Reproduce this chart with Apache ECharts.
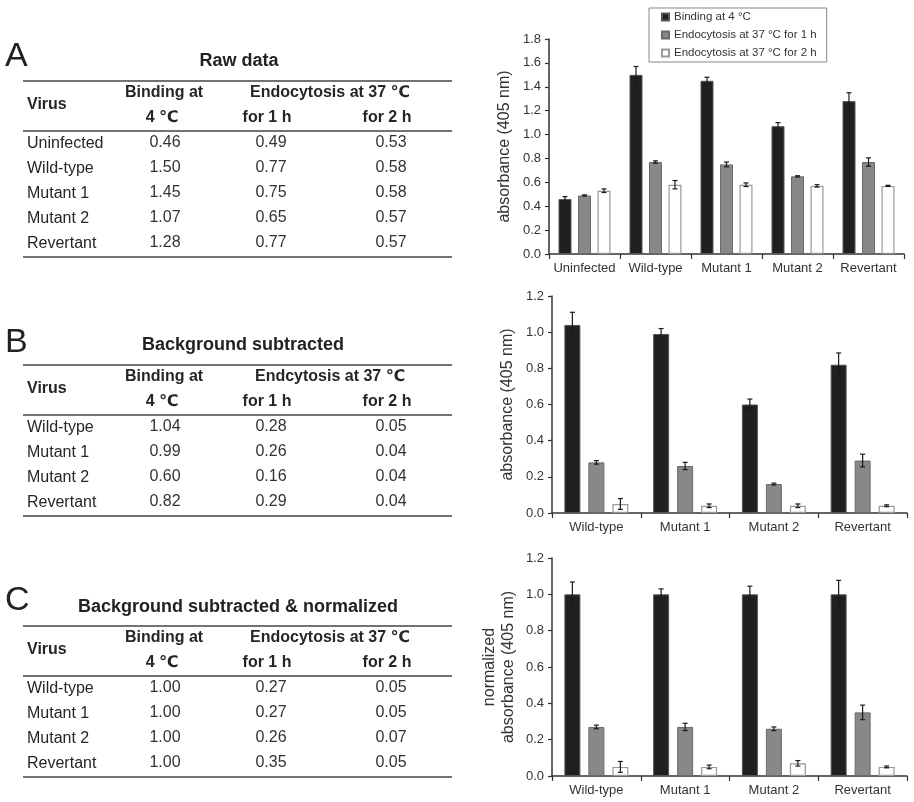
<!DOCTYPE html>
<html><head><meta charset="utf-8">
<script src="https://cdn.jsdelivr.net/npm/echarts@6/dist/echarts.min.js"></script>
<style>html,body{margin:0;padding:0;background:#fff}#c{width:914px;height:802px}</style>
</head><body><div id="c"></div>
<script>
const FONT = "'Liberation Sans', Arial, 'DejaVu Sans', sans-serif";

// ---------- DATA ----------
const seriesNames = ['Binding at 4 °C', 'Endocytosis at 37 °C for 1 h', 'Endocytosis at 37 °C for 2 h'];

// A: raw data
const virusesA = ['Uninfected', 'Wild-type', 'Mutant 1', 'Mutant 2', 'Revertant'];
const rawBinding = [0.46, 1.50, 1.45, 1.07, 1.28];
const rawEndo1h  = [0.49, 0.77, 0.75, 0.65, 0.77];
const rawEndo2h  = [0.53, 0.58, 0.58, 0.57, 0.57];
const rawErrBinding = [0.02, 0.07, 0.03, 0.03, 0.07];
const rawErrEndo1h  = [0.005, 0.01, 0.02, 0.005, 0.035];
const rawErrEndo2h  = [0.015, 0.035, 0.015, 0.01, 0.005];

// B: background subtracted
const virusesB = ['Wild-type', 'Mutant 1', 'Mutant 2', 'Revertant'];
const subBinding = [1.04, 0.99, 0.60, 0.82];
const subEndo1h  = [0.28, 0.26, 0.16, 0.29];
const subEndo2h  = [0.05, 0.04, 0.04, 0.04];
const subErrBinding = [0.07, 0.03, 0.03, 0.065];
const subErrEndo1h  = [0.01, 0.02, 0.005, 0.035];
const subErrEndo2h  = [0.03, 0.01, 0.01, 0.005];

// C: background subtracted & normalized
const virusesC = ['Wild-type', 'Mutant 1', 'Mutant 2', 'Revertant'];
const normBinding = [1.00, 1.00, 1.00, 1.00];
const normEndo1h  = [0.27, 0.27, 0.26, 0.35];
const normEndo2h  = [0.05, 0.05, 0.07, 0.05];
const normErrBinding = [0.068, 0.03, 0.045, 0.077];
const normErrEndo1h  = [0.01, 0.02, 0.01, 0.04];
const normErrEndo2h  = [0.03, 0.01, 0.015, 0.005];

// y-axis ranges / ticks
const yA = {min: 0, max: 1.8, interval: 0.2};
const yBC = {min: 0, max: 1.2, interval: 0.2};

// ---------- TABLES (graphic) ----------
const TXT = '#262626';
function table(letter, letterY, title, titleX, titleY, top, endoHeader, rows, v1, v2, v3) {
  const els = [];
  const t = (x, y, s, o) => els.push({type: 'text', x: x, y: y, silent: true,
    style: Object.assign({text: s, fontFamily: FONT, fontSize: 16, fill: TXT, align: 'center', verticalAlign: 'middle'}, o || {})});
  const ln = (y) => els.push({type: 'line', silent: true, shape: {x1: 23, y1: y, x2: 452, y2: y}, style: {stroke: '#444', lineWidth: 1.6}});
  t(5, letterY, letter, {fontSize: 34, align: 'left', fill: '#222'});
  t(titleX, titleY, title, {fontSize: 18, fontWeight: 'bold', fill: '#222'});
  ln(top);
  t(27, top + 23.5, 'Virus', {fontWeight: 'bold', align: 'left'});
  t(164, top + 11.5, 'Binding at', {fontWeight: 'bold'});
  t(330, top + 11.5, endoHeader, {fontWeight: 'bold'});
  t(162, top + 37, '4 ℃', {fontWeight: 'bold'});
  t(267, top + 37, 'for 1 h', {fontWeight: 'bold'});
  t(387, top + 37, 'for 2 h', {fontWeight: 'bold'});
  ln(top + 50);
  rows.forEach((r, i) => {
    const y = top + 61.5 + 25 * i;
    t(27, y + 1.5, r, {align: 'left'});
    t(165, y, v1[i].toFixed(2), {fill: '#333'});
    t(271, y, v2[i].toFixed(2), {fill: '#333'});
    t(391, y, v3[i].toFixed(2), {fill: '#333'});
  });
  ln(top + 61.5 + 25 * (rows.length - 1) + 14.5);
  return els;
}

const graphics = []
  .concat(table('A', 57, 'Raw data', 239, 61, 81, 'Endocytosis at 37 ℃', virusesA, rawBinding, rawEndo1h, rawEndo2h))
  .concat(table('B', 343, 'Background subtracted', 243, 345, 365, 'Endcytosis at 37 ℃', virusesB, subBinding, subEndo1h, subEndo2h))
  .concat(table('C', 601, 'Background subtracted & normalized', 238, 607, 626, 'Endocytosis at 37 ℃', virusesC, normBinding, normEndo1h, normEndo2h));

// ---------- CHARTS ----------
const barStyles = [
  {color: '#202020', borderColor: '#555', borderWidth: 1},
  {color: '#888888', borderColor: '#6a6a6a', borderWidth: 1},
  {color: '#ffffff', borderColor: '#999', borderWidth: 1.2}
];

function errRender(offset) {
  return function (params, api) {
    const i = api.value(0), v = api.value(1), e = api.value(2);
    const hi = api.coord([i, v + e]), lo = api.coord([i, v - e]);
    const x = hi[0] + offset, c = 2.5;
    const st = {stroke: '#1a1a1a', lineWidth: 1.2};
    return {type: 'group', children: [
      {type: 'line', shape: {x1: x, y1: hi[1], x2: x, y2: lo[1]}, style: st},
      {type: 'line', shape: {x1: x - c, y1: hi[1], x2: x + c, y2: hi[1]}, style: st},
      {type: 'line', shape: {x1: x - c, y1: lo[1], x2: x + c, y2: lo[1]}, style: st}
    ]};
  };
}

const grids = [
  {left: 549, right: 10, top: 39, bottom: 548, outerBoundsMode: 'none'},
  {left: 552, right: 7, top: 296, bottom: 289, outerBoundsMode: 'none'},
  {left: 552, right: 7, top: 558, bottom: 26, outerBoundsMode: 'none'}
];
const axisCol = '#333';
const xAxes = [virusesA, virusesB, virusesC].map((cats, g) => ({
  type: 'category', gridIndex: g, data: cats, boundaryGap: true,
  axisLine: {lineStyle: {color: axisCol, width: 1.5}},
  axisTick: {show: true, length: 5, interval: 0, lineStyle: {color: axisCol, width: 1.2}},
  axisLabel: {interval: 0, fontSize: 13, color: '#333', fontFamily: FONT, margin: 8},
  splitLine: {show: false}
}));
const yTitles = ['absorbance (405 nm)', 'absorbance (405 nm)', 'normalized\nabsorbance (405 nm)'];
const yAxes = [yA, yBC, yBC].map((r, g) => ({
  type: 'value', gridIndex: g, min: r.min, max: r.max, interval: r.interval,
  name: yTitles[g], nameLocation: 'middle', nameGap: g === 2 ? 34 : 35,
  nameTextStyle: {fontSize: 16, color: '#333', fontFamily: FONT, lineHeight: 19},
  axisLine: {show: true, lineStyle: {color: axisCol, width: 1.5}},
  axisTick: {show: true, length: 4, lineStyle: {color: axisCol, width: 1.2}},
  axisLabel: {fontSize: 13, color: '#333', fontFamily: FONT, margin: 8, formatter: v => v.toFixed(1)},
  splitLine: {show: false}
}));

const chartData = [
  {vals: [rawBinding, rawEndo1h, rawEndo2h], errs: [rawErrBinding, rawErrEndo1h, rawErrEndo2h], bw: 13},
  {vals: [subBinding, subEndo1h, subEndo2h], errs: [subErrBinding, subErrEndo1h, subErrEndo2h], bw: 16},
  {vals: [normBinding, normEndo1h, normEndo2h], errs: [normErrBinding, normErrEndo1h, normErrEndo2h], bw: 16}
];
const series = [];
chartData.forEach((cd, g) => {
  cd.vals.forEach((vals, k) => {
    series.push({
      type: 'bar', name: seriesNames[k], xAxisIndex: g, yAxisIndex: g,
      data: vals, barWidth: cd.bw, barGap: '50%', itemStyle: barStyles[k],
      emphasis: {disabled: true}, animation: false
    });
  });
  cd.vals.forEach((vals, k) => {
    series.push({
      type: 'custom', name: 'err' + g + k, xAxisIndex: g, yAxisIndex: g, z: 5,
      renderItem: errRender((k - 1) * cd.bw * 1.5),
      encode: {x: 0, y: 1},
      data: vals.map((v, i) => [i, v, cd.errs[k][i]]), animation: false, silent: true
    });
  });
});

const chart = echarts.init(document.getElementById('c'), null, {renderer: 'canvas'});
chart.setOption({
  backgroundColor: '#fff',
  animation: false,
  textStyle: {fontFamily: FONT},
  legend: {
    data: seriesNames, orient: 'vertical', left: 649, top: 8,
    itemWidth: 7, itemHeight: 7, itemGap: 4, padding: [2, 10, 2, 12],
    borderColor: '#888', borderWidth: 1, borderRadius: 0, icon: 'rect', selectedMode: false,
    textStyle: {fontSize: 11.5, color: '#333', fontFamily: FONT, lineHeight: 14}
  },
  grid: grids,
  xAxis: xAxes,
  yAxis: yAxes,
  series: series,
  graphic: {elements: graphics}
});
</script>
</body></html>
